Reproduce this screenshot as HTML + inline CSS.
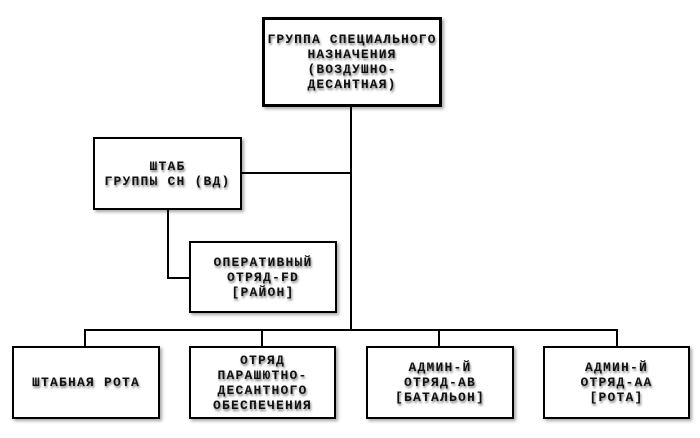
<!DOCTYPE html>
<html><head><meta charset="utf-8"><style>
body{margin:0;width:700px;height:438px;background:#fff;position:relative;overflow:hidden}
.b{position:absolute;box-sizing:border-box;border:2px solid #000;background:#fff;box-shadow:2px 2px 3px rgba(0,0,0,.35);display:flex;align-items:center;justify-content:center;text-align:center;font-family:"Liberation Mono",monospace;font-weight:bold;font-size:13px;letter-spacing:1.2px;line-height:15px;color:#111;text-shadow:1px 2px 2px rgba(0,0,0,.5);white-space:nowrap}
.l{position:absolute;background:#000}
</style></head><body>
<div class="l" style="left:350px;top:105px;width:2px;height:226px"></div>
<div class="l" style="left:240px;top:172px;width:112px;height:2px"></div>
<div class="l" style="left:167px;top:209px;width:2px;height:70px"></div>
<div class="l" style="left:167px;top:277px;width:23px;height:2px"></div>
<div class="l" style="left:84px;top:329px;width:534px;height:2px"></div>
<div class="l" style="left:84px;top:329px;width:2px;height:18px"></div>
<div class="l" style="left:261px;top:329px;width:2px;height:18px"></div>
<div class="l" style="left:438px;top:329px;width:2px;height:18px"></div>
<div class="l" style="left:616px;top:329px;width:2px;height:18px"></div>
<div class="b" style="left:262px;top:17px;width:180px;height:90px;border-width:3px;letter-spacing:1.1px">ГРУППА СПЕЦИАЛЬНОГО<br>НАЗНАЧЕНИЯ<br>(ВОЗДУШНО-<br>ДЕСАНТНАЯ)</div>
<div class="b" style="left:93px;top:137px;width:149px;height:73px">ШТАБ<br>ГРУППЫ СН (ВД)</div>
<div class="b" style="left:189px;top:241px;width:148px;height:72px">ОПЕРАТИВНЫЙ<br>ОТРЯД-FD<br>[РАЙОН]</div>
<div class="b" style="left:12px;top:346px;width:148px;height:73px">ШТАБНАЯ РОТА</div>
<div class="b" style="left:189px;top:346px;width:147px;height:73px">ОТРЯД<br>ПАРАШЮТНО-<br>ДЕСАНТНОГО<br>ОБЕСПЕЧЕНИЯ</div>
<div class="b" style="left:366px;top:346px;width:148px;height:73px">АДМИН-Й<br>ОТРЯД-АВ<br>[БАТАЛЬОН]</div>
<div class="b" style="left:543px;top:346px;width:147px;height:73px">АДМИН-Й<br>ОТРЯД-АА<br>[РОТА]</div>
</body></html>
